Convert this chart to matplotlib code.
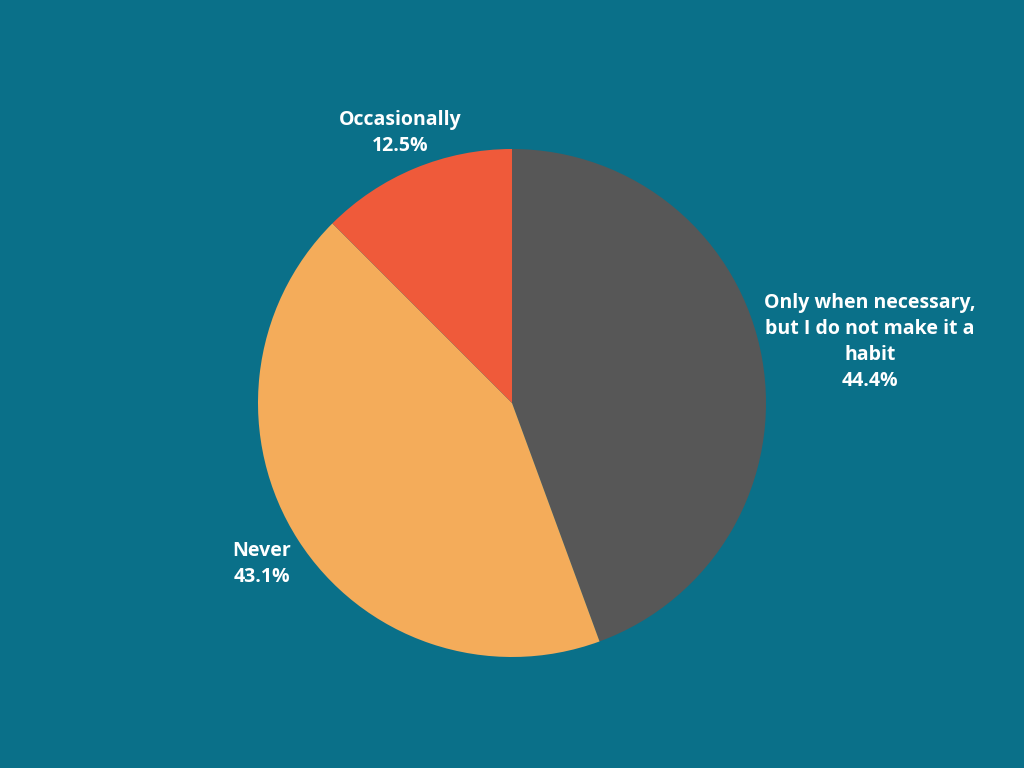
import matplotlib
matplotlib.use('Agg')
import matplotlib.pyplot as plt

# Datos
categories = ['Only when necessary,\nbut I do not make it a\nhabit', 'Never', 'Occasionally']
shares = [44.4, 43.1, 12.5]
slice_colors = ['#575757', '#F4AC5A', '#EF5A3A']
bg = '#0A7089'

fig = plt.figure(figsize=(10.24, 7.68), dpi=100, facecolor=bg)
ax = fig.add_axes([258 / 1024, 111 / 768, 508 / 1024, 508 / 768])
ax.set_facecolor(bg)

wedges, _ = ax.pie(shares, colors=slice_colors, startangle=90, counterclock=False,
                   radius=1.0, wedgeprops=dict(linewidth=0))
ax.set_xlim(-1, 1)
ax.set_ylim(-1, 1)
ax.set_aspect('equal')
ax.axis('off')

# Posiciones de las etiquetas (en unidades del radio)
label_pos = [(1.41, 0.24), (-0.984, -0.634), (-0.441, 1.063)]

for cat, val, (x, y) in zip(categories, shares, label_pos):
    ax.text(x, y, f'{cat}\n{val:.1f}%', ha='center', va='center',
            fontsize=14, fontweight='bold', family='Open Sans',
            color='white', linespacing=1.42, clip_on=False)

fig.savefig('out.png', dpi=100, facecolor=bg)
